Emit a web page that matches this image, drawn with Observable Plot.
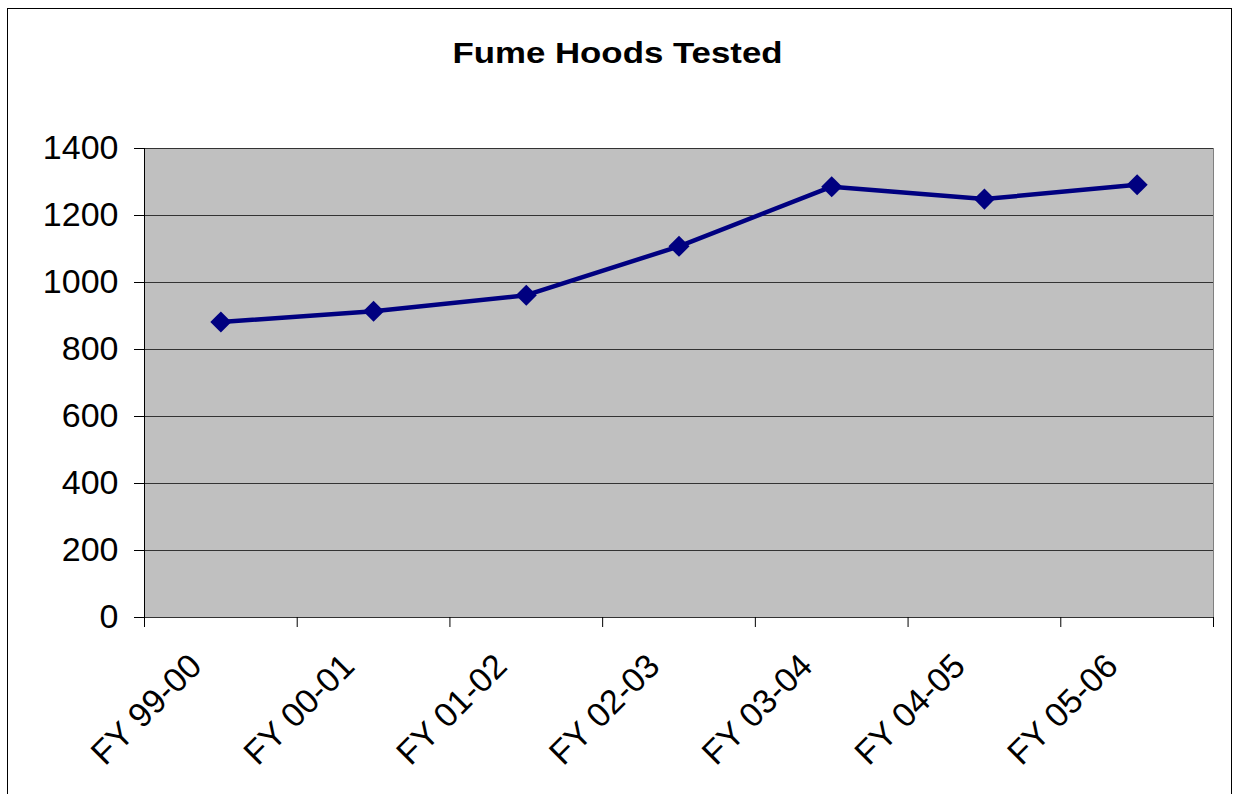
<!DOCTYPE html>
<html>
<head>
<meta charset="utf-8">
<script src="https://cdn.jsdelivr.net/npm/d3@7"></script>
<script src="https://cdn.jsdelivr.net/npm/@observablehq/plot@0.6"></script>
<style>
  html, body { margin: 0; padding: 0; background: #fff; overflow: hidden; }
  body { width: 1235px; height: 794px; position: relative; font-family: "Liberation Sans", Arial, sans-serif; }
  #border { position: absolute; left: 7px; top: 8px; width: 1225px; height: 820px; border: 1px solid #000; box-sizing: border-box; }
  #title { position: absolute; left: 0; width: 1235px; top: 36px; text-align: center; font-weight: bold; font-size: 29px; line-height: 34px; color: #000; }
  #title span { display: inline-block; transform: scaleX(1.2); }
  #chart { position: absolute; left: 0; top: 0; }
</style>
</head>
<body>
<div id="border"></div>
<div id="title"><span>Fume Hoods Tested</span></div>
<div id="chart"></div>
<script>
const categories = ["FY 99-00", "FY 00-01", "FY 01-02", "FY 02-03", "FY 03-04", "FY 04-05", "FY 05-06"];
const values = [882, 914, 962, 1108, 1286, 1249, 1292];
const yTicks = [0, 200, 400, 600, 800, 1000, 1200, 1400];

const data = categories.map((c, i) => ({i, category: c, value: values[i]}));
const n = categories.length;
const boundaries = d3.range(-0.5, n, 1);
const centers = d3.range(n);

const chart = Plot.plot({
  width: 1235,
  height: 794,
  marginLeft: 144,
  marginRight: 22,
  marginTop: 148,
  marginBottom: 177,
  style: {fontFamily: "'Liberation Sans', Arial, sans-serif", fontSize: "34px", color: "#000", background: "transparent", overflow: "visible"},
  x: {domain: [-0.5, n - 0.5], axis: null},
  y: {domain: [0, 1400], axis: null},
  marks: [
    Plot.frame({fill: "#c0c0c0", stroke: "#808080"}),
    Plot.ruleY(yTicks, {stroke: "#333", strokeWidth: 1}),
    Plot.ruleX([-0.5], {stroke: "#000", strokeWidth: 1}),
    Plot.axisY(yTicks, {tickSize: 10, tickPadding: 16, fontSize: 34, tickFormat: d => String(d), label: null, stroke: "#000", fill: "#000"}),
    Plot.axisX(boundaries, {tickSize: 10, tickFormat: () => "", label: null, stroke: "#000"}),
    Plot.axisX(centers, {tickSize: 0, tickPadding: 43, tickRotate: -45, dx: -25, fontSize: 34, tickFormat: i => categories[i], label: null, fill: "#000"}),
    Plot.line(data, {x: "i", y: "value", stroke: "#000080", strokeWidth: 4.5}),
    Plot.dot(data, {x: "i", y: "value", symbol: "diamond2", r: 9.5, fill: "#000080", stroke: "none"})
  ]
});
document.getElementById("chart").appendChild(chart);
</script>
</body>
</html>
